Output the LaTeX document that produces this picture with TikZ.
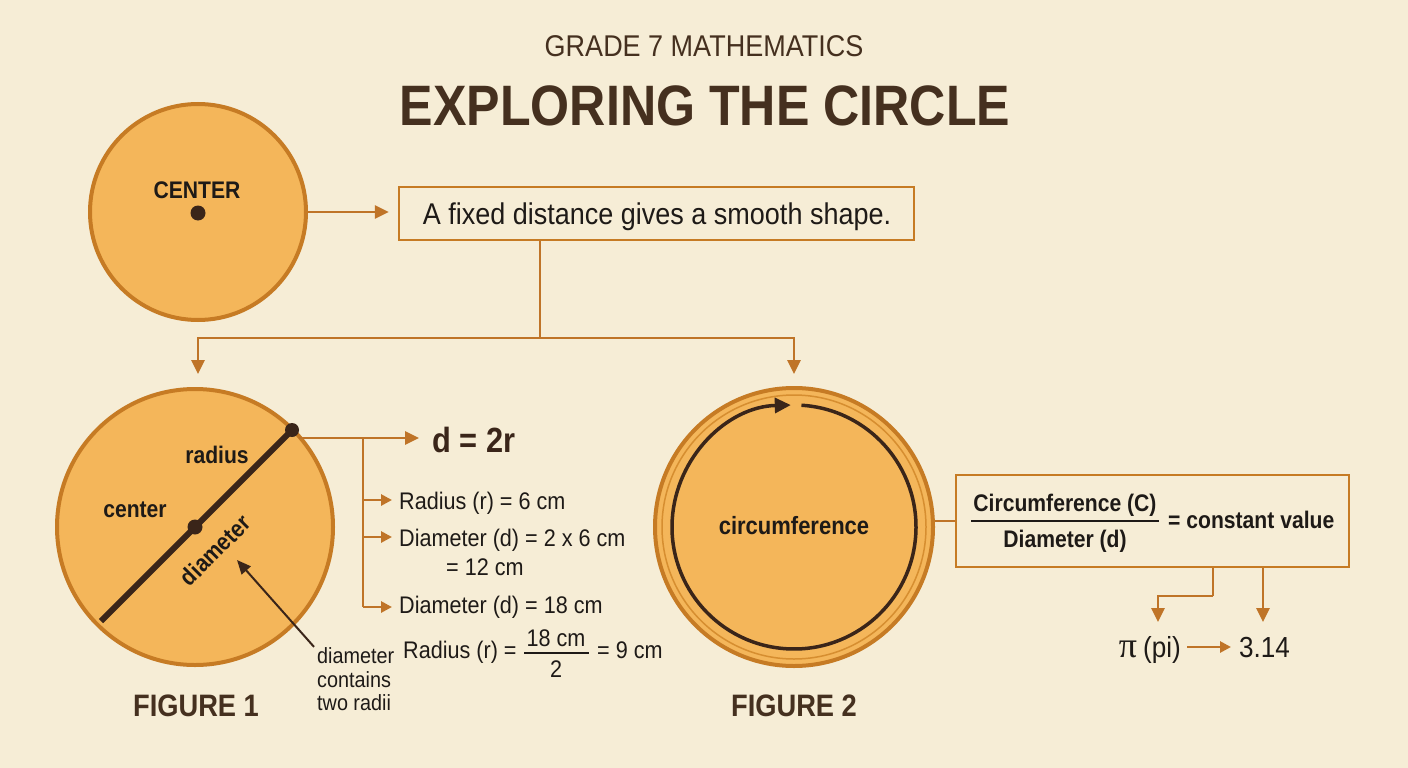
\documentclass[tikz,border=0pt]{standalone}
\usepackage{fontspec}
\setmainfont{Liberation Sans}[FakeStretch=0.9]
\newfontfamily\boldc{Liberation Sans}[FakeStretch=0.88]
\newfontfamily\pifont{Liberation Serif}
\usetikzlibrary{arrows.meta}
\definecolor{bg}{HTML}{F6EDD6}
\definecolor{fillc}{HTML}{F4B65A}
\definecolor{edge}{HTML}{C67B24}
\definecolor{ringc}{HTML}{D68E30}
\definecolor{dark}{HTML}{3A2519}
\definecolor{ttl}{HTML}{45301F}
\definecolor{ink}{HTML}{1E1A17}
\definecolor{conn}{HTML}{BF7428}
\begin{document}
\begin{tikzpicture}[x=1pt,y=-1pt,
  txt/.style={inner sep=0pt, text=ink},
  reg/.style={font=\fontsize{#1}{#1}\selectfont},
  bld/.style={font=\boldc\bfseries\fontsize{#1}{#1}\selectfont},
  disk/.style={circle, fill=fillc, draw=edge, line width=4pt, inner sep=0pt},
  dotn/.style={circle, fill=dark, inner sep=0pt, minimum size=15pt},
  framebox/.style={draw=edge, line width=2.5pt, fill=none, inner sep=0pt},
  link/.style={draw=conn, line width=2.8pt},
  arr/.style={link, -{Triangle[length=14pt,width=13pt]}},
  sarr/.style={link, -{Triangle[length=11pt,width=11pt]}},
  darr/.style={draw=dark, line width=2pt, -{Triangle[length=14pt,width=12pt]}}
]
\fill[bg] (0,0) rectangle (1408,768);
\useasboundingbox (0,0) rectangle (1408,768);

% titles
\node[txt, text=ttl, reg=30, anchor=base] (grade) at (704,57) {GRADE 7 MATHEMATICS};
\node[txt, text=ttl, bld=57, anchor=base] (title) at (705,125) {EXPLORING THE CIRCLE};

% top circle
\node[disk, minimum size=216pt] (c0) at (198,212) {};
\node[txt, bld=24, anchor=base] (lc0) at (197,198) {CENTER};
\node[dotn] (d0) at (198,213) {};

% fixed distance box
\node[framebox, minimum width=515pt, minimum height=53pt] (b1) at (656.5,213.5) {};
\node[txt, reg=30, anchor=base] (b1t) at (657,224) {A fixed distance gives a smooth shape.};
\draw[arr, shorten >=9pt] (c0.east) -- (c0.east -| b1.west);

% branching
\coordinate (j1) at (540,338);
\coordinate (a1) at (198,374);
\coordinate (a2) at (794,374);
\draw[link] (b1.south -| j1) -- (j1);
\draw[arr] (j1) -| (a1);
\draw[arr] (j1) -| (a2);

% figure 1
\node[disk, minimum size=276pt] (c1) at (195,527) {};
\coordinate (p1) at (101,621);
\node[dotn, minimum size=14pt] (d1top) at (292,430) {};
\draw[dark, line width=6pt] (p1) -- (d1top.center);
\node[dotn, minimum size=15pt] (d1c) at (195,527) {};
\node[txt, bld=24, anchor=base] (lrad) at (217,463) {radius};
\node[txt, bld=24, anchor=base] (lcen) at (135,517) {center};
\node[txt, bld=24, rotate=45] (ldia) at (215,550) {diameter};
\node[txt, bld=31, text=ttl, anchor=base] (fig1) at (196,716) {FIGURE 1};

% annotation
\node[txt, reg=22, anchor=base west] (dc1) at (317,663) {diameter};
\node[txt, reg=22, anchor=base west] (dc2) at (317,687) {contains};
\node[txt, reg=22, anchor=base west] (dc3) at (317,710) {two radii};
\coordinate (ann1) at (237,560);
\draw[darr] (dc1.north west) ++(-3,0) -- (ann1);

% d = 2r
\coordinate (k0) at (299,438);
\node[txt, bld=35, anchor=base west, text=dark] (deq) at (432,452) {d = 2r};
\draw[arr, shorten >=13pt] (k0) -- (k0 -| deq.west);
\coordinate (v0) at (363,438);

\node[txt, reg=24, anchor=base west] (r1) at (399,509) {Radius (r) = 6 cm};
\node[txt, reg=24, anchor=base west] (r2) at (399,546) {Diameter (d) = 2 x 6 cm};
\node[txt, reg=24, anchor=base west] (r2b) at (446,575) {= 12 cm};
\node[txt, reg=24, anchor=base west] (r3) at (399,613) {Diameter (d) = 18 cm};
\draw[link] (v0) -- (v0 |- 0,607);
\draw[sarr, shorten >=7pt] (v0 |- 0,500) -- (r1.west |- 0,500);
\draw[sarr, shorten >=7pt] (v0 |- 0,537) -- (r2.west |- 0,537);
\draw[sarr, shorten >=7pt] (v0 |- 0,607) -- (r3.west |- 0,607);

\node[txt, reg=24, anchor=base west] (r4) at (403,658) {Radius (r) =};
\node[txt, reg=24, anchor=base] (r4n) at (556,646) {18 cm};
\node[txt, reg=24, anchor=base] (r4d) at (556,677) {2};
\draw[ink, line width=1.6pt] (524,653) -- (589,653);
\node[txt, reg=24, anchor=base west] (r4e) at (597,658) {= 9 cm};

% figure 2
\node[disk, minimum size=278pt] (c2) at (794,527) {};
\draw[ringc, line width=1.5pt] (c2.center) circle[radius=132];
\draw[dark, line width=3.5pt, -{Triangle[length=16pt,width=15pt]}]
  (c2.center) ++(-86.5:122) arc[start angle=-86.5, end angle=268.5, radius=122];
\node[txt, bld=25, anchor=base] (lcirc) at (794,534) {circumference};
\node[txt, bld=31, text=ttl, anchor=base] (fig2) at (794,716) {FIGURE 2};

% ratio box
\node[framebox, minimum width=393pt, minimum height=92pt] (b2) at (1152.5,521) {};
\draw[link] (b2.west -| c2.east) -- (b2.west);
\node[txt, bld=24, anchor=base] (fnum) at (1065,511) {Circumference (C)};
\node[txt, bld=24, anchor=base] (fden) at (1065,547) {Diameter (d)};
\draw[ink, line width=2pt] (971,521) -- (1159,521);
\node[txt, bld=24, anchor=base west] (fcon) at (1168,528) {= constant value};

% pi
\node[txt, font=\pifont\fontsize{36}{36}\selectfont, anchor=base] (pi) at (1128,657) {π};
\node[txt, reg=29, anchor=base west] (pil) at (1143,657) {(pi)};
\node[txt, reg=29, anchor=base west] (pv) at (1239,657) {3.14};
\draw[sarr, shorten <=6pt, shorten >=8pt] (pil.east |- 0,647) -- (pv.west |- 0,647);
\coordinate (q1) at (1213,596);
\draw[link] (b2.south -| q1) -- (q1);
\draw[arr] (q1) -| (1158,622);
\draw[arr] (b2.south -| 1263,0) -- (1263,622);
\end{tikzpicture}
\end{document}
